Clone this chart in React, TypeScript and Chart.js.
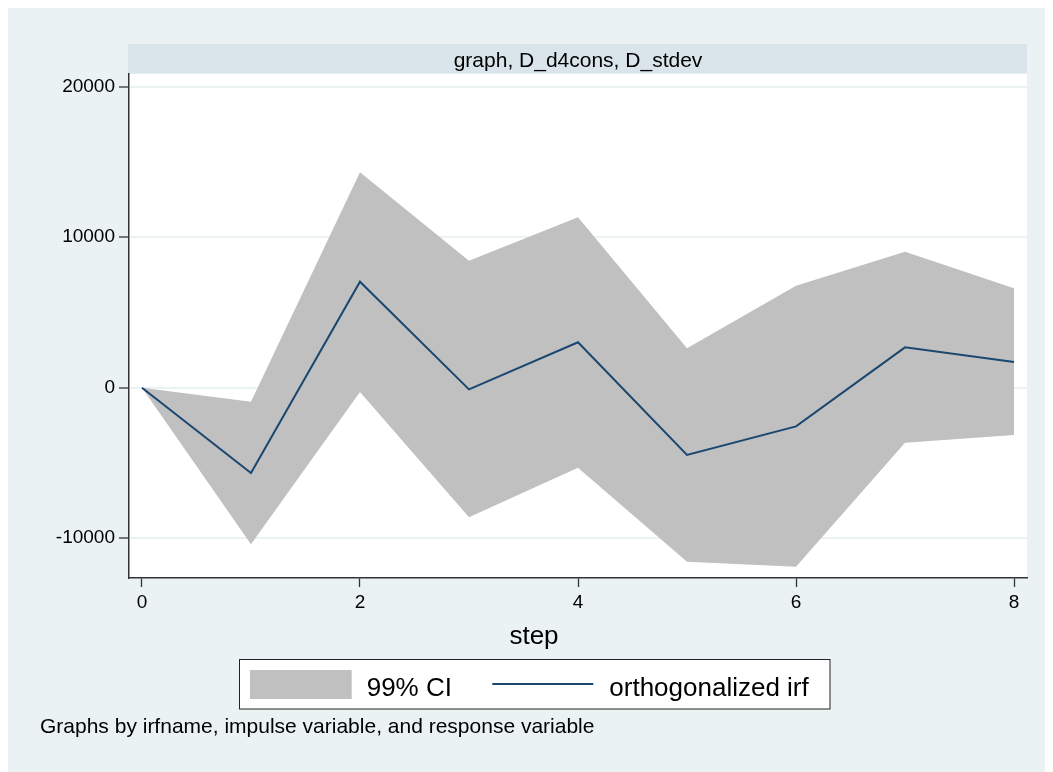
import React, { useEffect, useRef } from "react";
import { Chart, registerables } from "chart.js";

Chart.register(...registerables);

// ---- data ----
const steps = [0, 1, 2, 3, 4, 5, 6, 7, 8];
const irf = [0, -5670, 7040, -110, 3020, -4470, -2570, 2680, 1710];
const ciUpper = [0, -930, 14310, 8440, 11320, 2620, 6780, 9040, 6600];
const ciLower = [0, -10400, -290, -8610, -5320, -11560, -11890, -3650, -3140];
const xTicks = [0, 2, 4, 6, 8];
const yTicks = [-10000, 0, 10000, 20000];
const panelTitle = "graph, D_d4cons, D_stdev";
const xTitle = "step";
const legendLabels = ["99% CI", "orthogonalized irf"];
const note = "Graphs by irfname, impulse variable, and response variable";

const FONT = '"Liberation Sans", Arial, Helvetica, sans-serif';
const BG = "#eaf2f3";
const BAND = "#d9e5eb";
const CI = "#c0c0c0";
const NAVY = "#1a476f";

const deco = {
  id: "deco",
  beforeDraw(chart: any) {
    const { ctx, chartArea: a } = chart;
    ctx.save();
    ctx.fillStyle = BG;
    ctx.fillRect(0, 0, chart.width, chart.height);
    ctx.fillStyle = "#ffffff";
    ctx.fillRect(a.left, a.top, a.right - a.left, a.bottom - a.top);
    // title band
    ctx.fillStyle = BAND;
    ctx.fillRect(a.left - 1, a.top - 29.5, a.right - a.left + 1, 29.5);
    ctx.fillStyle = "#000";
    ctx.font = `21px ${FONT}`;
    ctx.textAlign = "center";
    ctx.textBaseline = "alphabetic";
    ctx.fillText(panelTitle, (a.left + a.right) / 2, a.top - 6.8);
    // x title
    ctx.font = `26px ${FONT}`;
    ctx.fillText(xTitle, 526, 636);
    // legend box
    ctx.fillStyle = "#ffffff";
    ctx.fillRect(231.5, 651.5, 590.5, 49.5);
    ctx.strokeStyle = "#222";
    ctx.lineWidth = 1;
    ctx.strokeRect(231.5, 651.5, 590.5, 49.5);
    ctx.fillStyle = CI;
    ctx.fillRect(242, 662, 101.7, 29);
    ctx.strokeStyle = NAVY;
    ctx.lineWidth = 2;
    ctx.beginPath();
    ctx.moveTo(484.3, 676);
    ctx.lineTo(585.3, 676);
    ctx.stroke();
    ctx.fillStyle = "#000";
    ctx.font = `26px ${FONT}`;
    ctx.textAlign = "left";
    ctx.fillText(legendLabels[0], 358.7, 687.7);
    ctx.fillText(legendLabels[1], 601.3, 687.7);
    // note
    ctx.font = `21px ${FONT}`;
    ctx.fillText(note, 32, 725);
    ctx.restore();
  },
};

export default function App() {
  const ref = useRef<HTMLCanvasElement>(null);
  useEffect(() => {
    document.documentElement.style.overflow = "hidden";
    document.body.style.overflow = "hidden";
    if (!ref.current) return;
    const chart = new Chart(ref.current, {
      type: "line",
      data: {
        labels: steps,
        datasets: [
          {
            label: legendLabels[1],
            data: steps.map((s, i) => ({ x: s, y: irf[i] })),
            borderColor: NAVY,
            borderWidth: 2,
            pointRadius: 0,
            fill: false,
            tension: 0,
          },
          {
            label: legendLabels[0],
            data: steps.map((s, i) => ({ x: s, y: ciUpper[i] })),
            borderWidth: 0,
            borderColor: "rgba(0,0,0,0)",
            backgroundColor: CI,
            pointRadius: 0,
            fill: "+1",
            tension: 0,
          },
          {
            label: "lower",
            data: steps.map((s, i) => ({ x: s, y: ciLower[i] })),
            borderWidth: 0,
            borderColor: "rgba(0,0,0,0)",
            backgroundColor: CI,
            pointRadius: 0,
            fill: false,
            tension: 0,
          },
        ],
      },
      options: {
        animation: false,
        responsive: false,
        devicePixelRatio: 1,
        layout: { padding: { left: 41, top: 65.5, right: 26, bottom: 154 } },
        plugins: {
          legend: { display: false },
          tooltip: { enabled: false },
          title: { display: false },
        },
        scales: {
          x: {
            type: "linear",
            min: -0.119,
            max: 8.119,
            afterBuildTicks: (s: any) => {
              s.ticks = xTicks.map((v) => ({ value: v }));
            },
            afterFit: (s: any) => {
              s.height = 40;
            },
            ticks: {
              color: "#000",
              font: { family: FONT, size: 19 },
              padding: 4,
              maxRotation: 0,
              autoSkip: false,
              callback: (v: any) => String(v),
            },
            grid: {
              drawOnChartArea: false,
              drawTicks: true,
              tickLength: 9,
              tickColor: "#333",
              tickWidth: 1.3,
            },
            border: { display: true, color: "#333", width: 1.5 },
          },
          y: {
            type: "linear",
            min: -12645,
            max: 20877,
            afterBuildTicks: (s: any) => {
              s.ticks = yTicks.map((v) => ({ value: v }));
            },
            afterFit: (s: any) => {
              s.width = 80;
            },
            ticks: {
              color: "#000",
              font: { family: FONT, size: 19 },
              padding: 4,
              autoSkip: false,
              callback: (v: any) => String(v),
            },
            grid: {
              drawOnChartArea: true,
              color: "#eaf2f3",
              lineWidth: 2,
              drawTicks: true,
              tickLength: 10,
              tickColor: "#333",
              tickWidth: 1.3,
            },
            border: { display: true, color: "#333", width: 1.5 },
          },
        },
      },
      plugins: [deco],
    });
    return () => chart.destroy();
  }, []);
  return (
    <canvas
      ref={ref}
      width={1045}
      height={764}
      style={{ display: "block", width: 1045, height: 764 }}
    />
  );
}
